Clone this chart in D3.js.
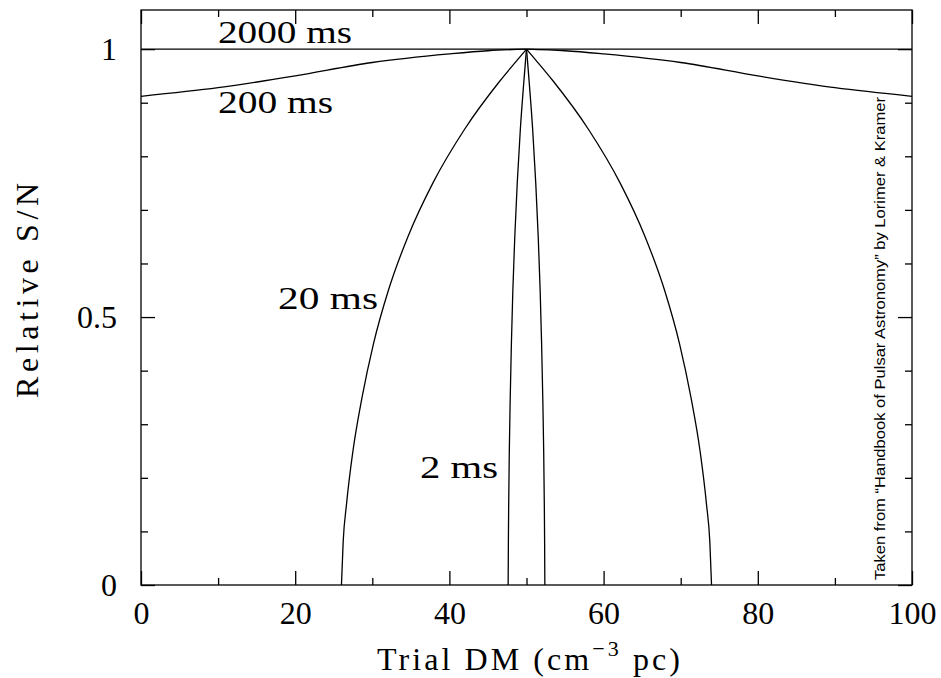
<!doctype html><html><head><meta charset="utf-8"></head><body style="margin:0;background:#fff">
<script src="https://d3js.org/d3.v7.min.js"></script>

<style>
  svg text {
    fill: black;
    font-family: "Liberation Serif", serif;
  }
</style>

<script>
  // trial DM values and relative S/N, one pair of arrays per pulse width
  var dm2000 = [0, 50, 100];
  var snr2000 = [1, 1, 1];

  var dm200 = [0, 10, 20, 30, 40, 45, 50, 55, 60, 70, 80, 90, 100];
  var snr200 = [0.912, 0.928, 0.950, 0.975, 0.991, 0.997, 1, 0.997, 0.991, 0.975, 0.950, 0.928, 0.912];

  var dm20 = [26.0, 26.22, 26.65, 27.49, 28.67, 30.15, 32.09, 34.62, 37.85, 41.95, 46.52, 48.82, 50,
              51.18, 53.48, 58.05, 62.15, 65.38, 67.91, 69.85, 71.33, 72.51, 73.35, 73.78, 74.0];
  var snr20 = [0, 0.08, 0.15, 0.25, 0.35, 0.45, 0.55, 0.65, 0.75, 0.85, 0.94, 0.98, 1,
               0.98, 0.94, 0.85, 0.75, 0.65, 0.55, 0.45, 0.35, 0.25, 0.15, 0.08, 0];

  var dm2 = [47.62, 47.65, 47.69, 47.77, 47.89, 48.04, 48.23, 48.48, 48.8, 49.2, 49.66, 49.88, 50,
             50.12, 50.34, 50.8, 51.2, 51.52, 51.77, 51.96, 52.11, 52.23, 52.31, 52.35, 52.38];
  var snr2 = [0, 0.08, 0.15, 0.25, 0.35, 0.45, 0.55, 0.65, 0.75, 0.85, 0.94, 0.98, 1,
              0.98, 0.94, 0.85, 0.75, 0.65, 0.55, 0.45, 0.35, 0.25, 0.15, 0.08, 0];

  var curveLabels = ["2000 ms", "200 ms", "20 ms", "2 ms"];

  var xMajor = [0, 20, 40, 60, 80, 100];
  var xMinor = [10, 30, 50, 70, 90];
  var yMajor = [0, 0.5, 1];
  var yMinor = [0.1, 0.2, 0.3, 0.4, 0.6, 0.7, 0.8, 0.9];

  var width = 941, height = 678;
  var boxL = 141, boxR = 912, boxT = 10, boxB = 585;

  var x = d3.scaleLinear().domain([0, 100]).range([boxL, boxR]);
  var y = d3.scaleLinear().domain([0, 1.073]).range([boxB, boxT]);

  var svg = d3.select("body")
    .append("svg")
    .attr("width", width)
    .attr("height", height);

  // ticks pointing into the box on all four sides
  function ticks(axis, tr) {
    var g = svg.append("g").attr("transform", tr).call(axis);
    g.select(".domain").remove();
    g.selectAll("line").attr("stroke", "#000").attr("stroke-width", 1.3);
    return g;
  }
  var fmt = function(d) { return d; };
  var none = function() { return ""; };

  var bx = ticks(d3.axisBottom(x).tickValues(xMajor).tickSize(-14).tickPadding(16).tickFormat(fmt), "translate(0," + boxB + ")");
  ticks(d3.axisBottom(x).tickValues(xMinor).tickSize(-7).tickFormat(none), "translate(0," + boxB + ")");
  ticks(d3.axisTop(x).tickValues(xMajor).tickSize(-14).tickFormat(none), "translate(0," + boxT + ")");
  ticks(d3.axisTop(x).tickValues(xMinor).tickSize(-7).tickFormat(none), "translate(0," + boxT + ")");

  var ly = ticks(d3.axisLeft(y).tickValues(yMajor).tickSize(-14).tickPadding(24).tickFormat(fmt), "translate(" + boxL + ",0)");
  ticks(d3.axisLeft(y).tickValues(yMinor).tickSize(-7).tickFormat(none), "translate(" + boxL + ",0)");
  ticks(d3.axisRight(y).tickValues(yMajor).tickSize(-14).tickFormat(none), "translate(" + boxR + ",0)");
  ticks(d3.axisRight(y).tickValues(yMinor).tickSize(-7).tickFormat(none), "translate(" + boxR + ",0)");

  bx.selectAll("text").attr("font-size", 32).attr("font-family", "Liberation Serif").attr("fill", "#000");
  ly.selectAll("text").attr("font-size", 32).attr("font-family", "Liberation Serif").attr("fill", "#000");

  svg.append("rect")
    .attr("x", boxL).attr("y", boxT)
    .attr("width", boxR - boxL).attr("height", boxB - boxT)
    .attr("fill", "none").attr("stroke", "#000").attr("stroke-width", 1.3);

  // draw each curve as two halves so the peak at DM = 50 stays sharp
  function drawCurve(dms, snrs) {
    var pts = dms.map(function(d, i) { return [d, snrs[i]]; });
    var peak = pts.findIndex(function(p) { return p[0] === 50; });
    var halves = [pts.slice(0, peak + 1), pts.slice(peak)];
    var line = d3.line()
      .x(function(p) { return x(p[0]); })
      .y(function(p) { return y(p[1]); })
      .curve(d3.curveMonotoneX);
    halves.forEach(function(h) {
      svg.append("path")
        .attr("d", line(h))
        .attr("fill", "none")
        .attr("stroke", "#000")
        .attr("stroke-width", 1.3);
    });
  }
  drawCurve(dm2000, snr2000);
  drawCurve(dm200, snr200);
  drawCurve(dm20, snr20);
  drawCurve(dm2, snr2);

  // curve labels
  var labelPos = [[218, 43, 134], [218, 113, 115], [278, 309, 100], [420, 478, 78]];
  curveLabels.forEach(function(t, i) {
    svg.append("text")
      .attr("x", labelPos[i][0])
      .attr("y", labelPos[i][1])
      .attr("font-size", 32)
      .attr("textLength", labelPos[i][2])
      .attr("lengthAdjust", "spacingAndGlyphs")
      .text(t);
  });

  // axis titles
  var xt = svg.append("text")
    .attr("x", 377).attr("y", 670)
    .attr("font-size", 32)
    .attr("textLength", 303)
    .attr("lengthAdjust", "spacing");
  xt.append("tspan").text("Trial DM (cm");
  xt.append("tspan").attr("font-size", 22).attr("dy", -14).text("\u22123");
  xt.append("tspan").attr("dy", 14).text(" pc)");

  svg.append("text")
    .attr("transform", "translate(38,398) rotate(-90)")
    .attr("font-size", 32)
    .attr("textLength", 215)
    .attr("lengthAdjust", "spacing")
    .text("Relative S/N");

  svg.append("text")
    .attr("transform", "translate(885,580) rotate(-90)")
    .attr("style", "font-family:'Liberation Sans',sans-serif")
    .attr("font-size", 14)
    .attr("textLength", 483)
    .attr("lengthAdjust", "spacingAndGlyphs")
    .text("Taken from \u201cHandbook of Pulsar Astronomy\u201d by Lorimer & Kramer");
</script></body></html>
